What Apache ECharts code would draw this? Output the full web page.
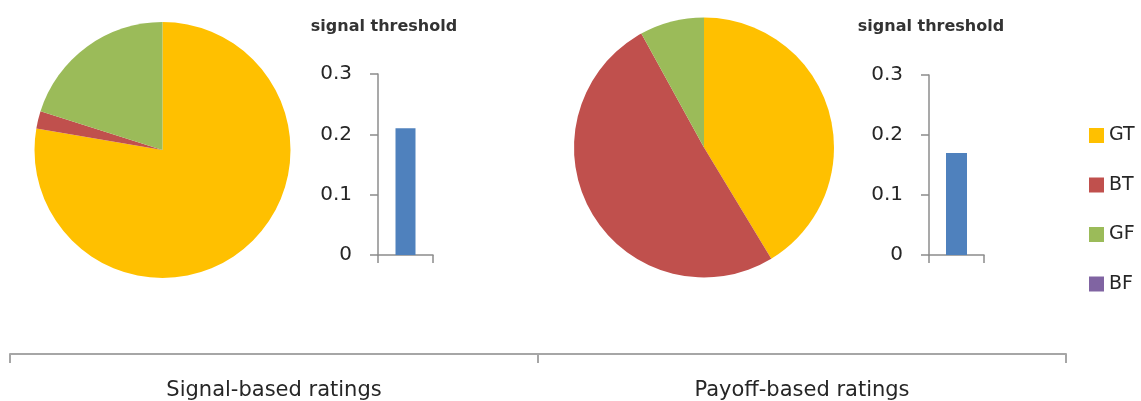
<!DOCTYPE html>
<html>
<head>
<meta charset="utf-8">
<script src="https://cdn.jsdelivr.net/npm/echarts@6/dist/echarts.min.js"></script>
<style>
  html, body { margin: 0; padding: 0; background: #ffffff; }
  #chart { width: 1141px; height: 401px; }
</style>
</head>
<body>
<div id="chart"></div>
<script>
// ---- data ----
const outcomeNames = ['GT', 'BT', 'GF', 'BF'];
const outcomeColors = ['#FFC000', '#C0504D', '#9BBB59', '#8064A2'];
const signalShares = [0.777, 0.022, 0.201, 0];
const payoffShares = [0.413, 0.506, 0.080, 0];
const thresholdCategory = [''];
const signalThreshold = [0.21];
const payoffThreshold = [0.17];
const groupLabels = ['Signal-based ratings', 'Payoff-based ratings'];
const thresholdTitle = 'signal threshold';

const FONT = 'DejaVu Sans';
const TEXT = '#262626';
const AXIS = '#8C8C8C';

function pieData(shares) {
  return outcomeNames.map((n, i) => ({ name: n, value: shares[i], itemStyle: { color: outcomeColors[i] } }));
}

function barYAxis(gridIndex) {
  return {
    gridIndex, type: 'value', min: 0, max: 0.3, interval: 0.1,
    axisLine: { show: true, lineStyle: { color: AXIS, width: 1.5 } },
    axisTick: { show: true, inside: false, length: 8, lineStyle: { color: AXIS, width: 1.5 } },
    splitLine: { show: false },
    axisLabel: { margin: 26, fontFamily: FONT, fontSize: 20, color: TEXT,
      formatter: v => (Math.round(v * 10) / 10).toString() }
  };
}
function barXAxis(gridIndex) {
  return {
    gridIndex, type: 'category', data: thresholdCategory, boundaryGap: true,
    axisLine: { show: true, lineStyle: { color: AXIS, width: 1.5 } },
    axisTick: { show: true, length: 8, alignWithLabel: false, lineStyle: { color: AXIS, width: 1.5 } },
    axisLabel: { show: false }
  };
}

const chart = echarts.init(document.getElementById('chart'), null, { renderer: 'canvas' });
chart.setOption({
  animation: false,
  backgroundColor: '#ffffff',
  title: [
    { text: thresholdTitle, left: 379, top: 14, textAlign: 'center',
      textStyle: { fontFamily: FONT, fontSize: 16, fontWeight: 'bold', color: '#333333' } },
    { text: thresholdTitle, left: 926, top: 14, textAlign: 'center',
      textStyle: { fontFamily: FONT, fontSize: 16, fontWeight: 'bold', color: '#333333' } }
  ],
  legend: {
    orient: 'vertical', left: 1084, top: 121,
    data: outcomeNames, icon: 'rect', itemWidth: 15, itemHeight: 15, itemGap: 30.5,
    textStyle: { fontFamily: FONT, fontSize: 19, color: TEXT, lineHeight: 19 },
    selectedMode: false
  },
  grid: [
    { left: 378, top: 74, width: 55, height: 181 },
    { left: 929, top: 75, width: 55, height: 180 },
    { left: 10, top: 300, width: 1056, height: 55 }
  ],
  xAxis: [
    barXAxis(0),
    barXAxis(1),
    {
      gridIndex: 2, type: 'category', data: groupLabels, boundaryGap: true,
      axisLine: { show: true, lineStyle: { color: '#A6A6A6', width: 2 } },
      axisTick: { show: true, length: 9, lineStyle: { color: '#A6A6A6', width: 2 } },
      axisLabel: { margin: 26, fontFamily: FONT, fontSize: 21, color: TEXT }
    }
  ],
  yAxis: [
    barYAxis(0),
    barYAxis(1),
    { gridIndex: 2, type: 'value', show: false }
  ],
  series: [
    {
      type: 'pie', center: [162.5, 150], radius: 128, startAngle: 90, clockwise: true,
      label: { show: false }, labelLine: { show: false }, silent: true,
      itemStyle: { borderWidth: 0 }, data: pieData(signalShares)
    },
    {
      type: 'pie', center: [704, 147.5], radius: 130, startAngle: 90, clockwise: true,
      label: { show: false }, labelLine: { show: false }, silent: true,
      itemStyle: { borderWidth: 0 }, data: pieData(payoffShares)
    },
    {
      type: 'bar', xAxisIndex: 0, yAxisIndex: 0, data: signalThreshold, barWidth: 20,
      itemStyle: { color: '#4F81BD' }, silent: true
    },
    {
      type: 'bar', xAxisIndex: 1, yAxisIndex: 1, data: payoffThreshold, barWidth: 21,
      itemStyle: { color: '#4F81BD' }, silent: true
    }
  ]
});
</script>
</body>
</html>
